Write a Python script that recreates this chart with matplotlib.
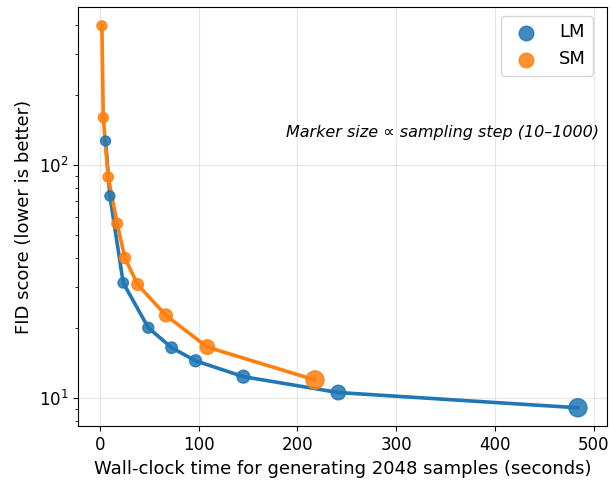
import matplotlib
matplotlib.use("Agg")
import matplotlib.pyplot as plt

lm_steps = [10, 20, 50, 100, 150, 200, 300, 500, 1000]
lm_time = [5.7, 10.1, 23.6, 49.0, 72.6, 96.9, 145.3, 241.5, 484.2]
lm_fid = [127.0, 73.8, 31.3, 20.1, 16.5, 14.5, 12.4, 10.6, 9.12]

sm_steps = [10, 15, 40, 80, 120, 175, 300, 500, 1000]
sm_time = [2.0, 3.4, 8.4, 17.5, 25.3, 38.2, 66.9, 108.8, 217.9]
sm_fid = [396.0, 160.0, 89.0, 56.2, 40.0, 30.8, 22.7, 16.6, 12.0]

def msize(steps):
    return [50 + 0.12 * s for s in steps]

fig, ax = plt.subplots(figsize=(6.11, 4.8), dpi=100)

ax.plot(lm_time, lm_fid, color="#1f77b4", linewidth=2.6, zorder=2)
ax.scatter(lm_time, lm_fid, s=msize(lm_steps), color="#1f77b4", alpha=0.85, label="LM", zorder=3)
ax.plot(sm_time, sm_fid, color="#ff7f0e", linewidth=2.6, zorder=2)
ax.scatter(sm_time, sm_fid, s=msize(sm_steps), color="#ff7f0e", alpha=0.85, label="SM", zorder=3)

ax.set_yscale("log")
ax.set_xlim(-22, 514)
ax.set_ylim(7.6, 476)
ax.grid(True, alpha=0.3)

ax.set_xlabel("Wall-clock time for generating 2048 samples (seconds)", fontsize=13)
ax.set_ylabel("FID score (lower is better)", fontsize=13)
ax.tick_params(labelsize=12)

ax.text(0.985, 0.70, "Marker size \u221d sampling step (10\u20131000)", transform=ax.transAxes,
        ha="right", va="center", fontsize=11.5, style="italic")

leg = ax.legend(loc="upper right", fontsize=13, bbox_to_anchor=(0.99, 1.0))
for h in leg.legend_handles:
    h.set_sizes([110])

fig.subplots_adjust(left=0.128, right=0.994, top=0.985, bottom=0.112)
fig.savefig("out.png", dpi=100)
